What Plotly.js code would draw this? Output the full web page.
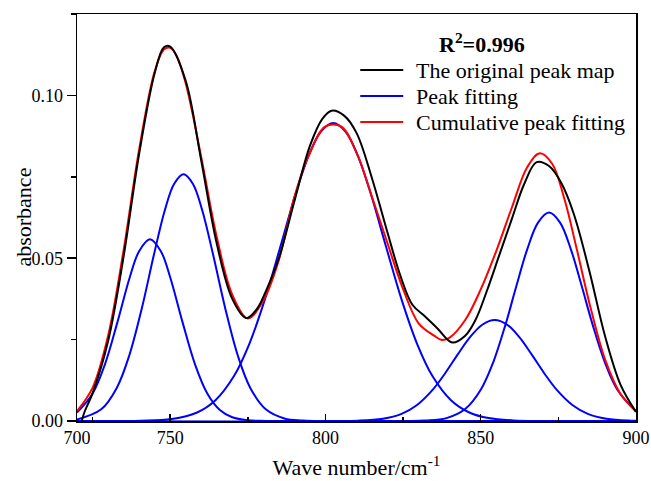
<!DOCTYPE html>
<html>
<head>
<meta charset="utf-8">
<script src="https://cdn.plot.ly/plotly-3.0.1.min.js"></script>
<style>html,body{margin:0;padding:0;background:#fff;}#chart{width:651px;height:481px;}</style>
</head>
<body>
<div id="chart"></div>
<script>
// ---- Fitted peaks (blue), each with its own wave-number samples ----
const peak1X = [720,725,729,733,737,740,743.5,747,750,754,758,762,766,770,775,781,900];
const peak1Y = [0.00262,0.00838,0.01741,0.03029,0.04415,0.05214,0.0558,0.05214,0.04415,0.03029,0.01741,0.00838,0.00338,0.00114,0.00023,0.00002,0];

const peak2X = [720,727.8,732.8,736.8,740.8,744.8,748.3,751.3,754.3,757.3,760.3,763.8,767.8,771.8,775.8,780.8,786.8,792.8,900];
const peak2Y = [0.00045,0.00358,0.01016,0.02002,0.03432,0.0512,0.06482,0.07289,0.0758,0.07289,0.06482,0.0512,0.03432,0.02002,0.01016,0.00358,0.00077,0.00012,0];

const peak3X = [720,740.5,750.5,758.5,764.5,770.5,775.5,780.5,785.5,790.5,794.5,798.5,802.5,806.5,810.5,814.5,819.5,824.5,829.5,834.5,840.5,846.5,852.5,860.5,870.5,900];
const peak3Y = [0,0.00007,0.00061,0.00254,0.00631,0.01373,0.02372,0.03734,0.05358,0.07008,0.08127,0.08883,0.0915,0.08883,0.08127,0.07008,0.05358,0.03734,0.02372,0.01373,0.00631,0.00254,0.00089,0.00018,0.00002,0];

const peak4X = [720,810.5,818.5,824.5,829.5,834.5,838.5,842.5,846.5,850.5,854.5,858.5,862.5,866.5,870.5,874.5,879.5,884.5,890.5,898.5,900];
const peak4Y = [0,0.0001,0.00069,0.0022,0.00493,0.00956,0.0146,0.0203,0.02568,0.02957,0.031,0.02957,0.02568,0.0203,0.0146,0.00956,0.00493,0.0022,0.00069,0.0001,0.00007];

const peak5X = [720,832,839,845,850,854,858,861.5,865,868.5,872,875.5,879,882.5,886,890,894,900];
const peak5Y = [0,0.00012,0.00089,0.00367,0.00959,0.01796,0.02968,0.04154,0.05281,0.061,0.064,0.061,0.05281,0.04154,0.02968,0.01796,0.00959,0.00296];

// ---- Cumulative peak fitting (red) ----
const cumX = [720,725,730,735,740,745,748,750,752,755,760,765,770,775,780,785,790,795,800,805,810,815,820,825,830,835,837.5,840,845,850,855,860,865,869,873,877,881,885,890,895,900];
const cumY = [0.00307,0.01019,0.02615,0.05242,0.08336,0.10732,0.1141,0.1146,0.1123,0.1037,0.08105,0.05653,0.0388,0.0315,0.037,0.0495,0.0688,0.0824,0.0905,0.0905,0.0825,0.0688,0.0545,0.0405,0.03,0.0262,0.0249,0.0256,0.031,0.0404,0.0522,0.0655,0.078,0.0822,0.079,0.068,0.0525,0.0362,0.019,0.0083,0.003];

// ---- Original spectrum (black) ----
const origX = [721.5,722.5,725,730,735,740,745,748,750,755,760,765,770,774.5,778,781,785,790,795,799,802,806,810,815,820,824,828,832,836,840.8,845,848.3,852,856,860,864,868,872,876,880,885,890,895,900];
const origY = [0.0,0.003,0.0085,0.0245,0.0505,0.082,0.1068,0.1148,0.115,0.1045,0.08,0.0545,0.0375,0.0316,0.0345,0.0403,0.05,0.0675,0.0845,0.0928,0.0953,0.0938,0.0885,0.0745,0.0578,0.045,0.0357,0.0322,0.0285,0.0241,0.0262,0.031,0.04,0.051,0.062,0.0728,0.0795,0.0783,0.073,0.0635,0.046,0.0262,0.0112,0.0028];

// ---- Axis ticks and legend labels ----
const xTickVals = [720,750,800,850,900];
const xTickText = ['700','750','800','850','900'];
const xMinorVals = [725,775,825,875];
const yTickVals = [0,0.05,0.10];
const yTickText = ['0.00','0.05','0.10'];
const legendNames = ['The original peak map','Peak fitting','Cumulative peak fitting'];
const legendColors = ['#000000','#0000FF','#FF0000'];
const fitLabel = 'R<sup>2</sup>=0.996';

const FONT = 'Liberation Serif';
const traces = [];
[[peak1X,peak1Y],[peak2X,peak2Y],[peak3X,peak3Y],[peak4X,peak4Y],[peak5X,peak5Y]].forEach((p,i)=>{
  traces.push({x:p[0],y:p[1],type:'scatter',mode:'lines',line:{color:legendColors[1],width:2,shape:'spline',smoothing:1},
    name:legendNames[1],showlegend:false});
});
traces.push({x:cumX,y:cumY,type:'scatter',mode:'lines',line:{color:legendColors[2],width:2,shape:'spline',smoothing:1},
  name:legendNames[2],showlegend:false});
traces.push({x:origX,y:origY,type:'scatter',mode:'lines',line:{color:legendColors[0],width:2,shape:'spline',smoothing:1},
  name:legendNames[0],showlegend:false});

// Legend drawn as sample lines + labels (paper coordinates of the plot area)
const legY = [0.8624,0.7985,0.7346];
const shapes = [];
const annotations = [{xref:'paper',yref:'paper',x:0.725,y:0.929,xanchor:'center',yanchor:'middle',showarrow:false,
  text:'<b>'+fitLabel+'</b>',font:{family:FONT,size:22,color:'#000'}}];
legendNames.forEach((n,i)=>{
  shapes.push({type:'line',xref:'paper',yref:'paper',x0:0.5067,x1:0.5836,y0:legY[i],y1:legY[i],line:{color:legendColors[i],width:2}});
  annotations.push({xref:'paper',yref:'paper',x:0.6032,y:legY[i],xanchor:'left',yanchor:'middle',showarrow:false,
    text:n,font:{family:FONT,size:22,color:'#000'}});
});
// y-axis title placed as text beside the tick labels
annotations.push({xref:'paper',yref:'paper',x:-0.0965,y:0.5,xanchor:'center',yanchor:'middle',showarrow:false,
  textangle:-90,text:'absorbance',font:{family:FONT,size:22,color:'#000'}});

const layout = {
  width:651,height:481,
  margin:{l:77,r:15,t:14,b:60,pad:0},
  paper_bgcolor:'#fff',plot_bgcolor:'#fff',
  font:{family:FONT,size:18,color:'#000'},
  showlegend:false,
  xaxis:{range:[720,900],showgrid:false,zeroline:false,showline:true,linecolor:'#000',linewidth:1.5,mirror:true,
    tickmode:'array',tickvals:xTickVals,ticktext:xTickText,ticks:'inside',ticklen:7,tickwidth:1.5,tickcolor:'#000',
    minor:{tickmode:'array',tickvals:xMinorVals,ticks:'inside',ticklen:4,tickwidth:1.5,tickcolor:'#000'},
    tickfont:{family:FONT,size:18,color:'#000'},
    title:{text:'Wave number/cm<sup>-1</sup>',font:{family:FONT,size:22,color:'#000'},standoff:12}},
  yaxis:{range:[0,0.125],showgrid:false,zeroline:false,showline:true,linecolor:'#000',linewidth:1.5,mirror:true,
    tickmode:'array',tickvals:yTickVals,ticktext:yTickText,ticks:'outside',ticklen:9,tickwidth:1.5,tickcolor:'#000',
    minor:{dtick:0.025,tick0:0,ticks:'outside',ticklen:5,tickwidth:1.5,tickcolor:'#000'},
    tickfont:{family:FONT,size:18,color:'#000'}},
  shapes:shapes,
  annotations:annotations
};
Plotly.newPlot('chart',traces,layout,{staticPlot:true,displayModeBar:false});
</script>
</body>
</html>
